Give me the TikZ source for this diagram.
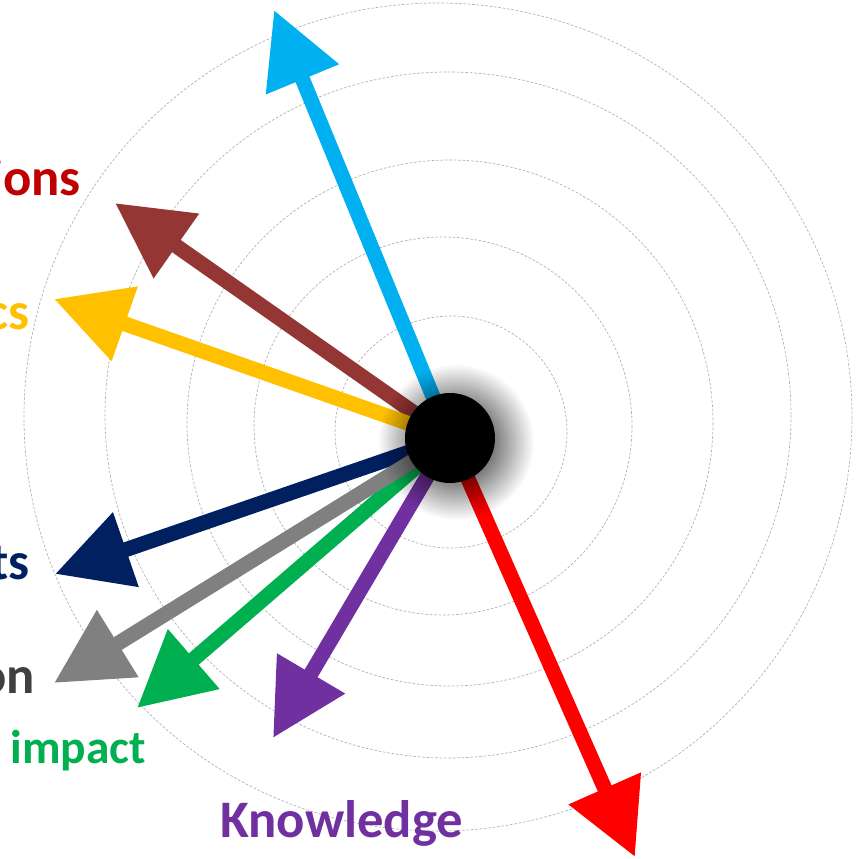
\documentclass[tikz,border=0pt]{standalone}
\usepackage{fontspec}
\setmainfont{Carlito}
\usetikzlibrary{arrows.meta,fadings,backgrounds}

\definecolor{skyblue}{HTML}{00B0F0}
\definecolor{brickred}{HTML}{943634}
\definecolor{amber}{HTML}{FFC000}
\definecolor{navyblue}{HTML}{002060}
\definecolor{midgray}{HTML}{808080}
\definecolor{leafgreen}{HTML}{00B050}
\definecolor{plum}{HTML}{7030A0}
\definecolor{darkred}{HTML}{C00000}
\definecolor{darkgray}{HTML}{404040}

\tikzfading[name=hubfade, inner color=transparent!0, outer color=transparent!100]

\begin{document}
\begin{tikzpicture}[
    x=0.02cm, y=-0.02cm,
    ring/.style={draw=black!30, line width=0.4pt, dash pattern=on 1.5pt off 1pt},
    spoke/.style={line width=0.3cm, -{Triangle[length=1.5cm, width=1.5cm]}},
    hub/.style={circle, fill=black, minimum size=1.8cm, inner sep=0pt},
    lbl/.style={font=\fontsize{30}{36}\selectfont\bfseries, inner sep=0pt}
  ]

\useasboundingbox (0,0) rectangle (859,859);
\clip (0,0) rectangle (859,859);

% Centre dot
\node[hub] (hub) at (450,438) {};

% Arrow tips
\coordinate (tipsky)    at (274,10);
\coordinate (tipbrick)  at (115,203);
\coordinate (tipamber)  at (54,299);
\coordinate (tipnavy)   at (55,574);
\coordinate (tipgray)   at (54,683);
\coordinate (tipgreen)  at (137,708);
\coordinate (tipplum)   at (273,738);
\coordinate (tipred)    at (635,857);

\begin{pgfonlayer}{background}
  % dashed rings
  \foreach \cx/\cy/\r in {451/432/116, 443/426/189, 450/423/263, 448/415/343, 438/417/414}
    \draw[ring] (\cx,\cy) circle [radius=\r];

  % arrows out of the centre
  \draw[spoke, skyblue]   (hub.center) -- (tipsky);
  \draw[spoke, brickred]  (hub.center) -- (tipbrick);
  \draw[spoke, amber]     (hub.center) -- (tipamber);
  \draw[spoke, navyblue]  (hub.center) -- (tipnavy);
  \draw[spoke, leafgreen] (hub.center) -- (tipgreen);
  \draw[spoke, midgray]   (hub.center) -- (tipgray);
  \draw[spoke, plum]      (hub.center) -- (tipplum);
  \draw[spoke, red]       (hub.center) -- (tipred);

  % soft shadow round the dot
  \fill[black, path fading=hubfade] (456,442) circle [radius=78];
\end{pgfonlayer}

% Labels, cut off at the left edge
\node[lbl, text=darkred, anchor=base east]   (lblions)   at (81,195)  {ions};
\node[lbl, text=amber, anchor=base east]     (lblcs)     at (30,329)  {cs};
\node[lbl, text=navyblue, anchor=base east]  (lblts)     at (30,579)  {ts};
\node[lbl, text=darkgray, anchor=base east]  (lblon)     at (35,693)  {on};
\node[lbl, text=leafgreen, anchor=base west, font=\fontsize{27}{32}\selectfont\bfseries] (lblimpact) at (10,763) {impact};
\node[lbl, text=plum, anchor=base west]      (lblknow)   at (220,837) {Knowledge};

\end{tikzpicture}
\end{document}
